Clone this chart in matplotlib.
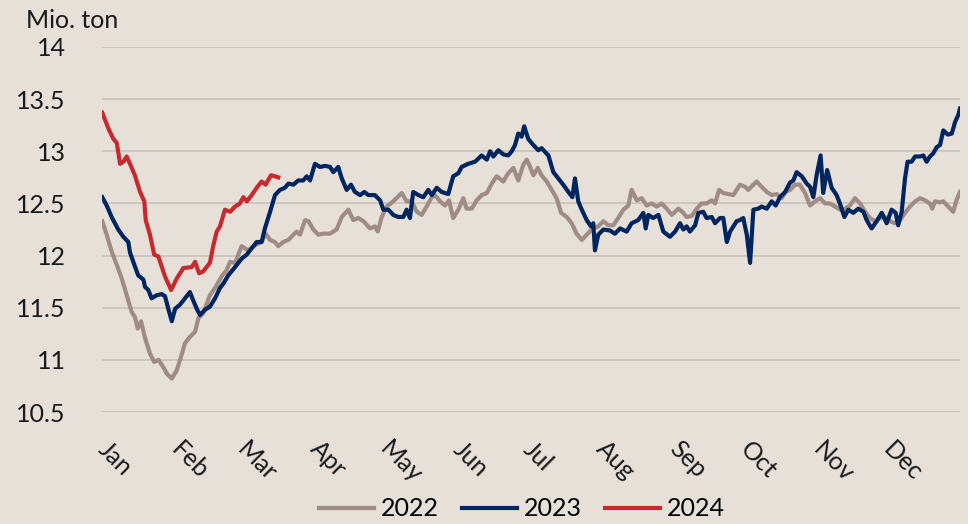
import numpy as np
import matplotlib
matplotlib.use("Agg")
import matplotlib.pyplot as plt

# Day of year / value readings per year
days_2022 = [0.1, 2.0, 4.1, 6.3, 8.4, 10.5, 12.6, 14.0, 15.2, 16.6, 18.3, 20.4, 22.2, 24.0, 26.1,
             27.5, 29.7, 31.8, 33.9, 35.3, 37.4, 39.6, 41.0, 43.1, 45.9, 48.1, 50.9, 53.0, 54.5,
             56.6, 59.4, 62.2, 65.1, 67.9, 69.6, 71.5, 73.6, 75.0, 77.1, 79.3, 81.4, 82.8, 84.2,
             86.4, 87.8, 89.9, 92.0, 94.1, 97.0, 99.8, 102.0, 104.8, 106.9, 109.0, 111.2, 114.0,
             116.1, 117.3, 119.0, 121.1, 123.9, 127.5, 129.6, 131.7, 133.9, 136.0, 138.1, 140.3,
             141.7, 143.8, 145.9, 147.6, 149.4, 151.6, 153.7, 155.1, 157.3, 159.4, 161.5, 163.7,
             165.8, 167.9, 170.7, 172.8, 175.0, 177.1, 179.2, 180.7, 182.1, 183.5, 185.4, 187.0,
             189.2, 191.3, 193.4, 195.3, 197.7, 199.8, 201.9, 204.1, 206.2, 208.3, 211.1, 213.3,
             215.4, 217.5, 219.6, 221.8, 223.9, 225.3, 227.5, 229.6, 231.7, 233.8, 236.0, 238.1,
             240.2, 242.4, 245.2, 247.3, 248.7, 250.9, 253.0, 255.1, 257.2, 259.4, 260.8, 262.5,
             264.3, 266.4, 268.6, 271.4, 273.5, 274.9, 277.1, 278.5, 280.6, 282.8, 284.9, 287.0,
             289.1, 290.8, 292.7, 294.8, 296.9, 299.1, 301.2, 303.3, 305.5, 307.6, 309.7, 311.8,
             314.0, 316.1, 318.2, 320.3, 322.5, 324.6, 326.7, 328.8, 331.0, 333.1, 335.2, 337.3,
             339.5, 341.6, 343.7, 345.9, 348.0, 350.1, 352.2, 353.2, 354.4, 356.5, 357.9, 360.0,
             362.1, 363.5, 365.0]
vals_2022 = [12.33, 12.20, 12.04, 11.91, 11.78, 11.62, 11.46, 11.41, 11.30, 11.37, 11.21, 11.06,
             10.98, 11.00, 10.93, 10.87, 10.82, 10.90, 11.05, 11.16, 11.22, 11.27, 11.40, 11.45,
             11.62, 11.69, 11.80, 11.86, 11.94, 11.93, 12.09, 12.05, 12.10, 12.13, 12.21, 12.15,
             12.13, 12.09, 12.13, 12.15, 12.20, 12.23, 12.20, 12.34, 12.33, 12.25, 12.20, 12.21,
             12.21, 12.25, 12.37, 12.44, 12.34, 12.36, 12.33, 12.26, 12.28, 12.23, 12.37, 12.47,
             12.52, 12.60, 12.52, 12.52, 12.42, 12.39, 12.47, 12.56, 12.58, 12.52, 12.48, 12.53,
             12.36, 12.44, 12.55, 12.45, 12.45, 12.53, 12.58, 12.60, 12.69, 12.76, 12.71, 12.79,
             12.84, 12.72, 12.87, 12.92, 12.85, 12.77, 12.84, 12.77, 12.71, 12.63, 12.55, 12.41,
             12.37, 12.31, 12.21, 12.15, 12.20, 12.25, 12.28, 12.33, 12.29, 12.29, 12.36, 12.44,
             12.48, 12.63, 12.53, 12.55, 12.48, 12.50, 12.47, 12.50, 12.45, 12.39, 12.45, 12.41,
             12.37, 12.38, 12.45, 12.50, 12.50, 12.53, 12.50, 12.63, 12.60, 12.59, 12.58, 12.68,
             12.66, 12.63, 12.68, 12.71, 12.66, 12.61, 12.58, 12.59, 12.55, 12.61, 12.63, 12.68,
             12.68, 12.60, 12.48, 12.52, 12.55, 12.50, 12.50, 12.47, 12.44, 12.45, 12.48, 12.55,
             12.50, 12.42, 12.36, 12.33, 12.36, 12.37, 12.33, 12.31, 12.34, 12.41, 12.47, 12.52,
             12.55, 12.53, 12.50, 12.45, 12.52, 12.51, 12.52, 12.47, 12.42, 12.53, 12.61]

days_2023 = [0.1, 2.0, 4.1, 6.9, 9.1, 11.2, 11.9, 13.3, 15.4, 17.6, 18.3, 19.7, 21.1, 23.3, 25.4,
             26.8, 28.2, 29.7, 31.1, 33.2, 35.3, 37.4, 38.8, 40.3, 41.7, 43.8, 45.9, 48.1, 50.2,
             51.6, 53.7, 56.6, 59.4, 61.6, 63.7, 65.8, 67.9, 69.3, 71.5, 73.6, 75.7, 77.8, 79.3,
             81.4, 83.5, 85.6, 87.1, 88.5, 90.6, 92.7, 94.9, 97.0, 98.4, 100.5, 102.0, 104.1,
             105.9, 107.6, 109.8, 111.6, 113.3, 116.1, 118.3, 119.7, 121.8, 123.9, 126.0, 128.2,
             129.6, 131.0, 132.4, 134.6, 136.7, 138.8, 140.3, 142.4, 144.5, 147.3, 149.4, 151.6,
             153.0, 155.8, 158.7, 161.5, 163.7, 165.1, 166.5, 168.6, 170.7, 172.8, 174.3, 175.7,
             177.1, 178.5, 179.6, 181.3, 183.5, 185.6, 187.0, 189.9, 192.0, 194.1, 196.2, 198.4,
             200.1, 201.2, 202.6, 204.1, 206.2, 208.0, 209.0, 209.7, 211.1, 213.3, 216.1, 218.2,
             220.4, 223.2, 225.3, 228.1, 230.3, 231.3, 232.4, 234.5, 236.7, 238.8, 241.6, 243.8,
             245.9, 247.3, 248.7, 250.1, 252.3, 253.7, 255.8, 257.2, 259.4, 260.8, 262.9, 264.3,
             265.8, 267.2, 268.6, 270.0, 271.4, 272.8, 274.3, 275.7, 277.1, 279.2, 280.6, 282.8,
             284.9, 286.6, 288.4, 290.6, 292.7, 294.1, 295.5, 297.7, 299.8, 301.2, 302.6, 304.0,
             305.7, 306.8, 308.5, 310.4, 312.5, 313.9, 315.8, 317.5, 319.6, 321.7, 323.9, 325.3,
             327.4, 329.6, 331.7, 333.8, 335.9, 337.6, 338.7, 340.2, 341.6, 342.7, 344.4, 345.9,
             348.0, 349.4, 350.8, 352.2, 353.6, 355.1, 356.5, 357.9, 359.8, 361.5, 362.9, 364.3,
             365.0]
vals_2023 = [12.56, 12.48, 12.37, 12.25, 12.18, 12.13, 12.03, 11.94, 11.81, 11.77, 11.70, 11.67,
             11.59, 11.62, 11.63, 11.61, 11.49, 11.37, 11.49, 11.53, 11.59, 11.65, 11.57, 11.49,
             11.43, 11.48, 11.51, 11.59, 11.69, 11.73, 11.81, 11.89, 11.97, 12.01, 12.07, 12.13,
             12.13, 12.26, 12.42, 12.58, 12.63, 12.65, 12.69, 12.68, 12.72, 12.72, 12.76, 12.72,
             12.88, 12.85, 12.86, 12.85, 12.80, 12.85, 12.74, 12.63, 12.68, 12.61, 12.58, 12.61,
             12.58, 12.58, 12.53, 12.44, 12.44, 12.39, 12.37, 12.37, 12.44, 12.36, 12.61, 12.58,
             12.56, 12.63, 12.58, 12.65, 12.61, 12.59, 12.76, 12.79, 12.85, 12.88, 12.90, 12.96,
             12.92, 13.00, 12.95, 13.01, 12.97, 12.96, 13.00, 13.06, 13.17, 13.14, 13.24, 13.12,
             13.06, 13.01, 13.03, 12.96, 12.80, 12.74, 12.68, 12.61, 12.56, 12.74, 12.52, 12.44,
             12.34, 12.28, 12.31, 12.05, 12.20, 12.25, 12.24, 12.21, 12.26, 12.23, 12.31, 12.34,
             12.41, 12.26, 12.39, 12.36, 12.39, 12.23, 12.18, 12.23, 12.31, 12.25, 12.28, 12.23,
             12.29, 12.41, 12.42, 12.36, 12.37, 12.31, 12.36, 12.36, 12.13, 12.23, 12.28, 12.33,
             12.34, 12.36, 12.20, 11.93, 12.44, 12.45, 12.47, 12.45, 12.52, 12.48, 12.56, 12.61,
             12.70, 12.72, 12.80, 12.76, 12.69, 12.66, 12.56, 12.77, 12.96, 12.60, 12.82, 12.65,
             12.58, 12.50, 12.37, 12.44, 12.41, 12.45, 12.42, 12.34, 12.26, 12.33, 12.41, 12.31,
             12.44, 12.41, 12.29, 12.42, 12.74, 12.90, 12.90, 12.95, 12.95, 12.96, 12.90, 12.95,
             12.98, 13.04, 13.06, 13.20, 13.16, 13.17, 13.28, 13.35, 13.41]

days_2024 = [0.1, 2.7, 4.8, 6.3, 7.7, 9.1, 10.5, 11.9, 14.0, 16.2, 18.0, 18.6, 20.4, 22.2, 24.0,
             26.8, 29.4, 31.8, 34.6, 38.2, 39.6, 41.3, 43.1, 45.9, 47.3, 48.8, 50.2, 52.3, 54.5,
             56.6, 58.7, 60.1, 61.6, 63.7, 65.8, 67.9, 69.6, 71.9, 73.6, 75.0]
vals_2024 = [13.37, 13.22, 13.12, 13.08, 12.88, 12.90, 12.95, 12.88, 12.77, 12.61, 12.52, 12.34,
             12.20, 12.01, 11.99, 11.80, 11.67, 11.78, 11.88, 11.89, 11.94, 11.83, 11.85, 11.93,
             12.09, 12.23, 12.28, 12.44, 12.42, 12.47, 12.50, 12.56, 12.52, 12.58, 12.65, 12.71,
             12.68, 12.77, 12.76, 12.75]

month_starts = [0, 31, 59, 90, 120, 151, 181, 212, 243, 273, 304, 334]
month_labels = ["Jan", "Feb", "Mar", "Apr", "May", "Jun", "Jul", "Aug", "Sep", "Oct", "Nov", "Dec"]
y_ticks = [10.5, 11, 11.5, 12, 12.5, 13, 13.5, 14]
y_labels = ["10.5", "11", "11.5", "12", "12.5", "13", "13.5", "14"]

bg = "#e6e0d9"
plt.rcParams["font.family"] = ["Lato", "DejaVu Sans"]

fig = plt.figure(figsize=(9.68, 5.24), dpi=100, facecolor=bg)
ax = fig.add_axes([102 / 968, 1 - 412 / 524, 858 / 968, 365 / 524], facecolor=bg)

ax.plot(days_2022, vals_2022, color="#a08c86", lw=3.0, label="2022", solid_joinstyle="round")
ax.plot(days_2023, vals_2023, color="#00255f", lw=3.0, label="2023", solid_joinstyle="round")
ax.plot(days_2024, vals_2024, color="#c8292e", lw=3.0, label="2024", solid_joinstyle="round")

ax.set_xlim(0, 365)
ax.set_ylim(10.5, 14)
ax.set_yticks(y_ticks)
ax.set_yticklabels(y_labels, fontsize=18, color="#1a1a1a")
ax.set_xticks(month_starts)
ax.set_xticklabels(month_labels, fontsize=18, color="#1a1a1a", rotation=-45,
                   ha="left", va="center", rotation_mode="anchor")
ax.tick_params(axis="both", length=0)
ax.tick_params(axis="y", pad=26)
ax.tick_params(axis="x", pad=24)
ax.grid(axis="y", color="#cbc2b8", lw=1.2)
ax.set_axisbelow(True)
for s in ax.spines.values():
    s.set_visible(False)

fig.text(26 / 968, 1 - 20 / 524, "Mio. ton", fontsize=18, color="#1a1a1a", va="center")

fig.legend(loc="center", bbox_to_anchor=(522 / 968, 1 - 509 / 524), ncol=3, frameon=False,
           fontsize=18, handlelength=2.2, columnspacing=0.9, handletextpad=0.3)

fig.savefig("out.png", dpi=100, facecolor=bg)
